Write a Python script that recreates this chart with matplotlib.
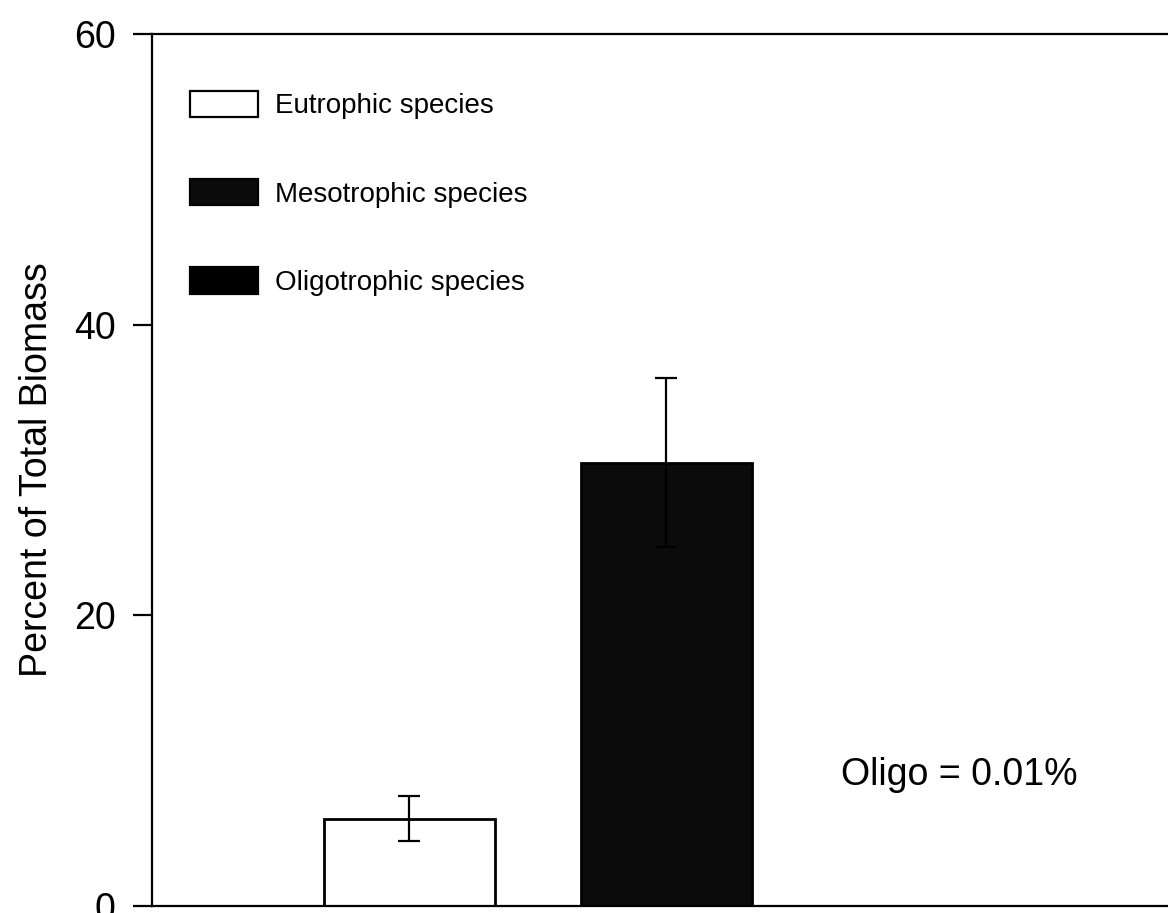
import numpy as np
from matplotlib import pyplot as plt
from matplotlib.patches import Patch

plt.rcParams['font.family'] = ['Liberation Sans', 'DejaVu Sans']

# data
groups = ['Eutrophic species', 'Mesotrophic species', 'Oligotrophic species']
means = [6.0, 30.5, 0.01]
errs = [1.55, 5.8, 0.0]
colors = ['white', '#0b0b0b', 'black']
yticks = [0, 20, 40, 60]
note = 'Oligo = 0.01%'

fig = plt.figure(figsize=(11.68, 9.13), dpi=100)
# axes runs a little past the right edge, like the cropped scan
ax = fig.add_axes([0.1301, 0.0077, 0.8806, 0.9551])

x = np.arange(len(groups))
ax.bar(x, means, width=0.665, color=colors, edgecolor='black', linewidth=2.0, zorder=2)
ax.errorbar(x[:2], means[:2], yerr=errs[:2], fmt='none', ecolor='black',
            elinewidth=1.6, capsize=8, capthick=1.6, zorder=3)

ax.set_xlim(-1, 3)
ax.set_ylim(0, 60)
ax.set_xticks([])
ax.set_yticks(yticks)
ax.tick_params(axis='y', direction='out', length=14, width=1.6, pad=12, labelsize=27)
for s in ax.spines.values():
    s.set_linewidth(1.6)

ax.set_ylabel('Percent of Total Biomass', fontsize=27, labelpad=14)

ax.text(1.68, 9.0, note, fontsize=27, va='center', ha='left')

handles = [Patch(facecolor=c, edgecolor='black', linewidth=1.6) for c in colors]
ax.legend(handles, groups, loc='upper left', bbox_to_anchor=(0.037, 0.935),
          frameon=False, fontsize=20, handlelength=2.45, handleheight=1.08,
          handletextpad=0.6, labelspacing=2.15, borderpad=0, borderaxespad=0)

fig.savefig('out.png', dpi=100)
